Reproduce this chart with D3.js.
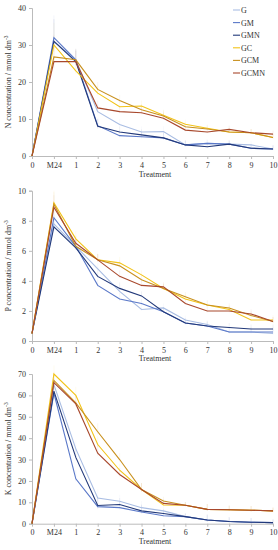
<!DOCTYPE html>
<html><head><meta charset="utf-8">
<script src="https://cdn.jsdelivr.net/npm/d3@7"></script>
<style>
body{margin:0;background:#fff;}
text{font-family:"Liberation Serif","Times New Roman",serif;fill:#333;}
</style></head>
<body><svg id="c" width="278" height="550"></svg>
<script>
const treatments = ["0","M24","1","2","3","4","5","6","7","8","9","10"];
const seriesNames = ["G","GM","GMN","GC","GCM","GCMN"];
const seriesColors = ["#a9bde3","#5a78c8","#22397a","#f2c318","#c8901e","#a8482c"];

// N concentration
const nG    = [0,31,26,12,8.5,6.5,6.6,3.0,3.4,3.2,3.0,1.9];
const nGM   = [0,32,26,8.2,5.5,5.2,4.9,3.0,3.4,3.2,2.1,1.9];
const nGMN  = [0,31,25.5,8,6.5,5.7,4.9,3.0,2.5,3.2,2.1,1.9];
const nGC   = [0,30,23,17,13.3,13.5,11,8.6,7.5,6.5,6.3,5.0];
const nGCM  = [0,26.8,26,18,15,12.5,10.8,7.9,7.3,6.5,6.3,5.0];
const nGCMN = [0,25.5,25.5,13,12,11.7,10.2,7.0,6.5,7.2,6.3,5.9];
const nErr  = [0,6,3,2,1.5,1.5,1.5,1.2,1,1,1,1];

// P concentration
const pG    = [0.5,7.8,6.3,4.8,3.3,2.1,2.2,1.4,1.1,0.6,0.6,0.5];
const pGM   = [0.5,8.2,6.3,3.7,2.8,2.5,1.95,1.2,1.0,0.6,0.6,0.6];
const pGMN  = [0.5,7.6,6.2,4.3,3.5,3.0,1.95,1.2,1.0,0.9,0.8,0.8];
const pGC   = [0.5,9.2,6.8,5.4,5.2,4.4,3.5,2.8,2.4,2.1,1.4,1.4];
const pGCM  = [0.5,9.1,6.3,5.4,5.0,4.07,3.5,2.95,2.4,2.2,1.7,1.3];
const pGCMN = [0.5,8.9,6.5,5.4,4.3,3.7,3.6,2.5,2.0,2.0,1.8,1.3];
const pErr  = [0,0.8,0.5,0.4,0.4,0.3,0.3,0.3,0.3,0.3,0.3,0.3];

// K concentration
const kG    = [0,65,35,12,10.5,7.5,6,3.3,1.7,1,0.7,0.5];
const kGM   = [0,61,21,8,7.5,5.5,3.75,3.3,1.7,1,0.7,0.5];
const kGMN  = [0,62,31,8.5,9,6,4.8,3.3,1.7,1,0.7,0.5];
const kGC   = [0,70,60,37,25,16,8.75,8.6,6.7,6.5,6.3,6];
const kGCM  = [0,67,56.5,43,30,16,10.6,8.6,6.7,6.5,6.3,6];
const kGCMN = [0,66,56,33,23,16,9.5,8.6,6.7,6.5,6.3,6];
const kErr  = [0,4,4,4,3,3,2,1.5,2.5,2,2,1.5];

const panels = [
  {label:"N", max:40, ticks:[0,10,20,30,40], top:8, bottom:156, data:[nG,nGM,nGMN,nGC,nGCM,nGCMN], err:nErr, titleY:177},
  {label:"P", max:10, ticks:[0,2,4,6,8,10], top:190.7, bottom:341, data:[pG,pGM,pGMN,pGC,pGCM,pGCMN], err:pErr, titleY:361},
  {label:"K", max:70, ticks:[0,10,20,30,40,50,60,70], top:374, bottom:523.7, data:[kG,kGM,kGMN,kGC,kGCM,kGCMN], err:kErr, titleY:544}
];

const svg = d3.select("#c");
const x = d3.scalePoint().domain(treatments).range([32,273]);

panels.forEach(p => {
  const y = d3.scaleLinear().domain([0,p.max]).range([p.bottom,p.top]);
  const g = svg.append("g");
  // error bars (faint)
  p.data.forEach((vals,si) => {
    vals.forEach((v,i) => {
      if (p.err[i] > 0) {
        g.append("line").attr("x1",x(treatments[i])).attr("x2",x(treatments[i]))
          .attr("y1",y(v-p.err[i]*0.3)).attr("y2",y(v+p.err[i]))
          .attr("stroke",seriesColors[si]).attr("stroke-opacity",0.1).attr("stroke-width",0.7);
      }
    });
  });
  // y axis
  const ya = g.append("g").attr("transform","translate(32,0)")
    .call(d3.axisLeft(y).tickValues(p.ticks).tickSize(3).tickPadding(3));
  ya.selectAll("path,line").attr("stroke","#bbb");
  ya.selectAll("text").attr("font-size","8px").attr("font-family","Liberation Serif").attr("fill","#333");
  // x axis
  const xa = g.append("g").attr("transform",`translate(0,${p.bottom})`)
    .call(d3.axisBottom(x).tickSize(3).tickPadding(3).tickSizeOuter(0));
  xa.selectAll("path,line").attr("stroke","#bbb");
  xa.selectAll("text").attr("font-size","8px").attr("font-family","Liberation Serif").attr("fill","#333");
  // lines
  const line = d3.line().x((d,i)=>x(treatments[i])).y(d=>y(d));
  p.data.forEach((vals,si) => {
    g.append("path").datum(vals).attr("d",line).attr("fill","none")
      .attr("stroke",seriesColors[si]).attr("stroke-width",1.1);
  });
  // titles
  g.append("text").attr("x",155).attr("y",p.titleY).attr("text-anchor","middle")
    .attr("font-size","8px").text("Treatment");
  const cy = (p.top+p.bottom)/2;
  const t = g.append("text").attr("transform",`translate(11,${cy}) rotate(-90)`)
    .attr("text-anchor","middle").attr("font-size","8px");
  t.append("tspan").text(p.label+" concentration / mmol dm");
  t.append("tspan").attr("dy",-3).attr("font-size","5.5px").text("-3");
});

// legend
const leg = svg.append("g");
seriesNames.forEach((n,i) => {
  const ly = 10 + i*12.6;
  leg.append("line").attr("x1",233).attr("x2",240).attr("y1",ly).attr("y2",ly)
    .attr("stroke",seriesColors[i]).attr("stroke-width",1.1);
  leg.append("text").attr("x",241).attr("y",ly+3).attr("font-size","8px").text(n);
});
</script></body></html>
